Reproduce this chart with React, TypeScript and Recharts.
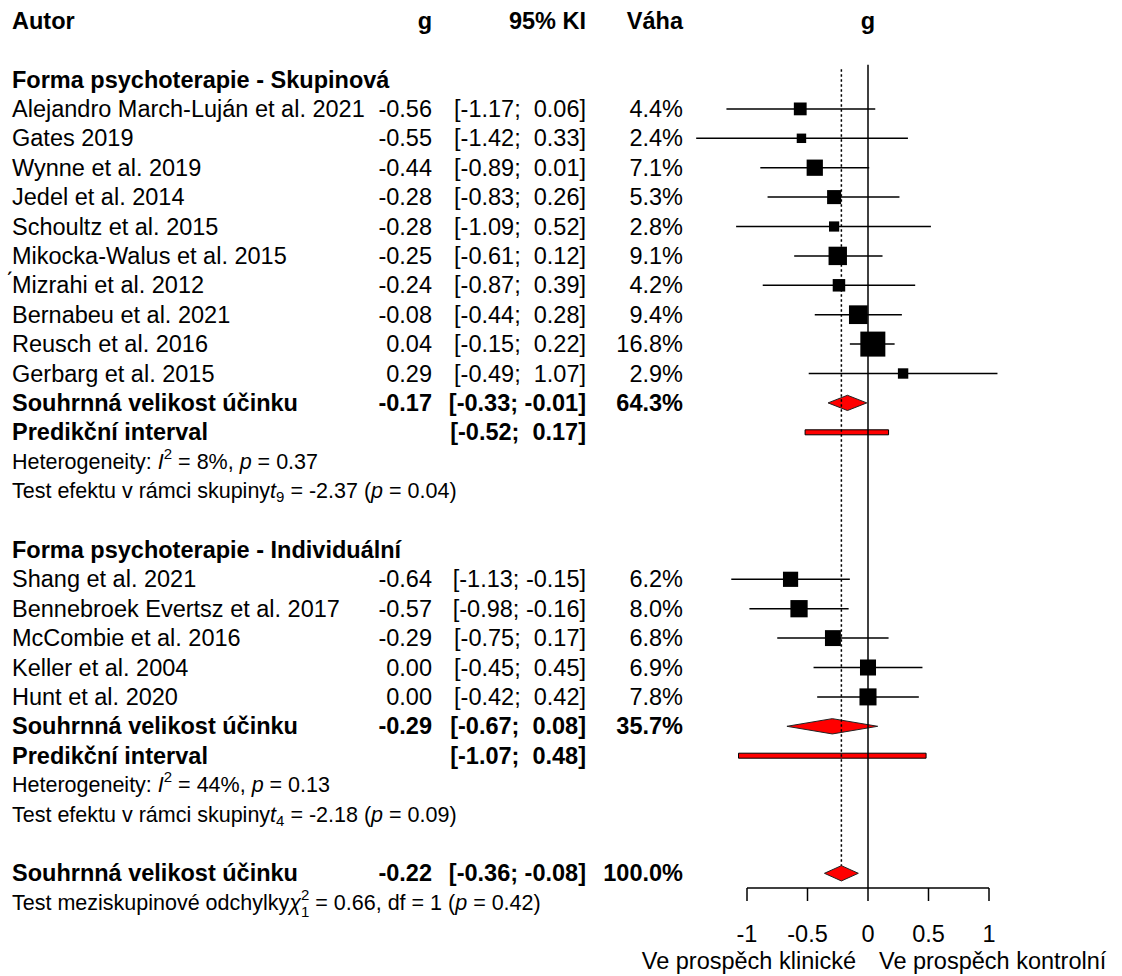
import React from "react";
import {
  ComposedChart,
  Scatter,
  XAxis,
  YAxis,
  ReferenceLine,
  ReferenceArea,
  Label,
} from "recharts";

const FONT = '"Liberation Sans", Arial, Helvetica, sans-serif';
const FS = 23.5;
const FS_SMALL = 21.5;

// subgroups and studies
const groupNames = [
  "Forma psychoterapie - Skupinová",
  "Forma psychoterapie - Individuální",
];
const authors = [
  "Alejandro March-Luján et al. 2021",
  "Gates 2019",
  "Wynne et al. 2019",
  "Jedel et al. 2014",
  "Schoultz et al. 2015",
  "Mikocka-Walus et al. 2015",
  "\u0301Mizrahi et al. 2012",
  "Bernabeu et al. 2021",
  "Reusch et al. 2016",
  "Gerbarg et al. 2015",
  "Shang et al. 2021",
  "Bennebroek Evertsz et al. 2017",
  "McCombie et al. 2016",
  "Keller et al. 2004",
  "Hunt et al. 2020",
];
const studyGroup = [0, 0, 0, 0, 0, 0, 0, 0, 0, 0, 1, 1, 1, 1, 1];
const hedgesG = [-0.56, -0.55, -0.44, -0.28, -0.28, -0.25, -0.24, -0.08, 0.04, 0.29, -0.64, -0.57, -0.29, 0.0, 0.0];
const ciLower = [-1.17, -1.42, -0.89, -0.83, -1.09, -0.61, -0.87, -0.44, -0.15, -0.49, -1.13, -0.98, -0.75, -0.45, -0.42];
const ciUpper = [0.06, 0.33, 0.01, 0.26, 0.52, 0.12, 0.39, 0.28, 0.22, 1.07, -0.15, -0.16, 0.17, 0.45, 0.42];
const weights = [4.4, 2.4, 7.1, 5.3, 2.8, 9.1, 4.2, 9.4, 16.8, 2.9, 6.2, 8.0, 6.8, 6.9, 7.8];

// subgroup summaries
const pooledG = [-0.17, -0.29];
const pooledLower = [-0.33, -0.67];
const pooledUpper = [-0.01, 0.08];
const pooledWeight = [64.3, 35.7];
const predLower = [-0.52, -1.07];
const predUpper = [0.17, 0.48];
const hetI2 = [8, 44];
const hetP = [0.37, 0.13];
const testDf = [9, 4];
const testT = [-2.37, -2.18];
const testP = [0.04, 0.09];

// overall
const overallG = -0.22;
const overallLower = -0.36;
const overallUpper = -0.08;
const overallWeight = 100.0;
const betweenChi2 = 0.66;
const betweenDf = 1;
const betweenP = 0.42;

const axisTicks = [-1, -0.5, 0, 0.5, 1];

type Kind = "header" | "group" | "study" | "pooled" | "pred" | "het" | "test" | "overall";
type Row = { row: number; kind: Kind; idx: number };

const rows: Row[] = [];
let r = 0;
rows.push({ row: r, kind: "header", idx: 0 });
r += 2;
groupNames.forEach((_, gi) => {
  rows.push({ row: r++, kind: "group", idx: gi });
  authors.forEach((_, si) => {
    if (studyGroup[si] === gi) rows.push({ row: r++, kind: "study", idx: si });
  });
  rows.push({ row: r++, kind: "pooled", idx: gi });
  rows.push({ row: r++, kind: "pred", idx: gi });
  rows.push({ row: r++, kind: "het", idx: gi });
  rows.push({ row: r++, kind: "test", idx: gi });
  r++;
});
rows.push({ row: r++, kind: "overall", idx: 0 });
const overallRow = r - 1;
const rowByIndex = new Map(rows.map((row) => [row.row, row]));
const studyRow = (si: number) => rows.find((x) => x.kind === "study" && x.idx === si)!.row;
const groupRow = (gi: number, kind: Kind) => rows.find((x) => x.kind === kind && x.idx === gi)!.row;

const squares = authors.map((_, i) => ({ x: hedgesG[i], y: studyRow(i), w: weights[i] }));

const f2 = (v: number) => v.toFixed(2);
const ci = (lo: number, hi: number) => `[${f2(lo)};${hi < 0 ? "\u00a0" : "\u00a0\u00a0"}${f2(hi)}]`;

const COL_NAME = 12;
const COL_G = 432;
const COL_CI = 586;
const COL_W = 683;
const PLOT_ZERO = 868;

const Square = (props: any) => {
  const { cx, cy, payload } = props;
  const s = 6.1 * Math.sqrt(payload.w);
  return <rect x={cx - s / 2} y={cy - s / 2} width={s} height={s} fill="#000" />;
};

const Diamond = (props: any) => {
  const { x, y, width, height } = props;
  const pts = [
    [x, y + height / 2],
    [x + width / 2, y],
    [x + width, y + height / 2],
    [x + width / 2, y + height],
  ]
    .map((p) => p.join(","))
    .join(" ");
  return <polygon points={pts} fill="#ff0000" stroke="#222" strokeWidth={1} />;
};

const Txt = ({ x, y, anchor = "start", bold = false, size = FS, children }: any) => (
  <text
    x={x}
    y={y}
    textAnchor={anchor}
    dominantBaseline="central"
    fontFamily={FONT}
    fontSize={size}
    fontWeight={bold ? "bold" : "normal"}
    fill="#000"
  >
    {children}
  </text>
);

const RowText = (props: any) => {
  const { y, payload } = props;
  const row = rowByIndex.get(payload.value);
  if (!row) return null;
  const i = row.idx;
  switch (row.kind) {
    case "header":
      return (
        <g>
          <Txt x={COL_NAME} y={y} bold>Autor</Txt>
          <Txt x={COL_G} y={y} anchor="end" bold>g</Txt>
          <Txt x={COL_CI} y={y} anchor="end" bold>95% KI</Txt>
          <Txt x={COL_W} y={y} anchor="end" bold>Váha</Txt>
          <Txt x={PLOT_ZERO} y={y} anchor="middle" bold>g</Txt>
        </g>
      );
    case "group":
      return <Txt x={COL_NAME} y={y} bold>{groupNames[i]}</Txt>;
    case "study":
      return (
        <g>
          <Txt x={COL_NAME} y={y}>{authors[i]}</Txt>
          <Txt x={COL_G} y={y} anchor="end">{f2(hedgesG[i])}</Txt>
          <Txt x={COL_CI} y={y} anchor="end">{ci(ciLower[i], ciUpper[i])}</Txt>
          <Txt x={COL_W} y={y} anchor="end">{weights[i].toFixed(1)}%</Txt>
        </g>
      );
    case "pooled":
      return (
        <g>
          <Txt x={COL_NAME} y={y} bold>Souhrnná velikost účinku</Txt>
          <Txt x={COL_G} y={y} anchor="end" bold>{f2(pooledG[i])}</Txt>
          <Txt x={COL_CI} y={y} anchor="end" bold>{ci(pooledLower[i], pooledUpper[i])}</Txt>
          <Txt x={COL_W} y={y} anchor="end" bold>{pooledWeight[i].toFixed(1)}%</Txt>
        </g>
      );
    case "pred":
      return (
        <g>
          <Txt x={COL_NAME} y={y} bold>Predikční interval</Txt>
          <Txt x={COL_CI} y={y} anchor="end" bold>{ci(predLower[i], predUpper[i])}</Txt>
        </g>
      );
    case "het":
      return (
        <Txt x={COL_NAME} y={y} size={FS_SMALL}>
          {"Heterogeneity: "}
          <tspan fontStyle="italic">I</tspan>
          <tspan dy={-9} fontSize={15}>2</tspan>
          <tspan dy={9}>{` = ${hetI2[i]}%, `}</tspan>
          <tspan fontStyle="italic">p</tspan>
          {` = ${f2(hetP[i])}`}
        </Txt>
      );
    case "test":
      return (
        <Txt x={COL_NAME} y={y} size={FS_SMALL}>
          {"Test efektu v rámci skupiny"}
          <tspan fontStyle="italic">t</tspan>
          <tspan dy={5} fontSize={15}>{testDf[i]}</tspan>
          <tspan dy={-5}>{` = ${f2(testT[i])} (`}</tspan>
          <tspan fontStyle="italic">p</tspan>
          {` = ${f2(testP[i])})`}
        </Txt>
      );
    case "overall":
      return (
        <g>
          <Txt x={COL_NAME} y={y} bold>Souhrnná velikost účinku</Txt>
          <Txt x={COL_G} y={y} anchor="end" bold>{f2(overallG)}</Txt>
          <Txt x={COL_CI} y={y} anchor="end" bold>{ci(overallLower, overallUpper)}</Txt>
          <Txt x={COL_W} y={y} anchor="end" bold>{overallWeight.toFixed(1)}%</Txt>
        </g>
      );
  }
  return null;
};

// between-group test line and the direction captions under the axis
const AxisFooter = (props: any) => {
  const vb = props.viewBox;
  const testY = vb.y + 14.7;
  const capY = vb.y + 81;
  const mid = vb.x + vb.width / 2;
  return (
    <g>
      <Txt x={COL_NAME} y={testY} size={FS_SMALL}>
        {"Test meziskupinové odchylky"}
        <tspan fontStyle="italic">χ</tspan>
        <tspan dy={-9} fontSize={15}>2</tspan>
        <tspan dx={-8.3} dy={17} fontSize={15}>{betweenDf}</tspan>
        <tspan dy={-8}>{` = ${f2(betweenChi2)}, df = ${betweenDf} (`}</tspan>
        <tspan fontStyle="italic">p</tspan>
        {` = ${f2(betweenP)})`}
      </Txt>
      <text x={mid - 12} y={capY} textAnchor="end" fontFamily={FONT} fontSize={FS} fill="#000">
        Ve prospěch klinické
      </text>
      <text x={mid + 11} y={capY} textAnchor="start" fontFamily={FONT} fontSize={FS} fill="#000">
        Ve prospěch kontrolní
      </text>
    </g>
  );
};

const DIAMOND_HALF = 0.26;
const PRED_HALF = 0.085;
const AXIS_ROW = 29.5;

export default function App() {
  return (
    <div style={{ position: "absolute", left: 0, top: 0, width: 1122, height: 976, background: "#fff" }}>
      <ComposedChart width={1122} height={976} margin={{ top: 6, right: 60.4, bottom: 0, left: 0 }}>
        <XAxis
          type="number"
          dataKey="x"
          domain={[-1.6, 1.6]}
          allowDataOverflow
          ticks={axisTicks}
          interval={0}
          axisLine={false}
          tickLine={{ stroke: "#000", strokeWidth: 1.5 }}
          tickSize={13}
          tickMargin={24}
          height={88}
          tick={{ fill: "#000", fontSize: FS, fontFamily: FONT }}
        >
          <Label content={AxisFooter} />
        </XAxis>
        <YAxis
          type="number"
          dataKey="y"
          domain={[-0.5, AXIS_ROW]}
          allowDataOverflow
          reversed
          ticks={rows.map((x) => x.row)}
          interval={0}
          width={674.4}
          axisLine={false}
          tickLine={false}
          tick={<RowText />}
        />

        {/* confidence intervals of the single studies */}
        {authors.map((_, i) => (
          <ReferenceLine
            key={`ci-${i}`}
            segment={[
              { x: ciLower[i], y: studyRow(i) },
              { x: ciUpper[i], y: studyRow(i) },
            ]}
            stroke="#000"
            strokeWidth={1.5}
          />
        ))}

        {/* line of no effect and overall estimate */}
        <ReferenceLine
          segment={[
            { x: 0, y: 1.5 },
            { x: 0, y: AXIS_ROW },
          ]}
          stroke="#000"
          strokeWidth={1.5}
        />
        <ReferenceLine
          segment={[
            { x: overallG, y: 1.65 },
            { x: overallG, y: overallRow - DIAMOND_HALF },
          ]}
          stroke="#000"
          strokeWidth={1.5}
          strokeDasharray="2.5 2.5"
        />
        <ReferenceLine
          segment={[
            { x: axisTicks[0], y: AXIS_ROW },
            { x: axisTicks[axisTicks.length - 1], y: AXIS_ROW },
          ]}
          stroke="#000"
          strokeWidth={1.5}
        />

        {/* subgroup diamonds and prediction intervals */}
        {groupNames.map((_, gi) => (
          <ReferenceArea
            key={`pool-${gi}`}
            x1={pooledLower[gi]}
            x2={pooledUpper[gi]}
            y1={groupRow(gi, "pooled") - DIAMOND_HALF}
            y2={groupRow(gi, "pooled") + DIAMOND_HALF}
            shape={<Diamond />}
          />
        ))}
        {groupNames.map((_, gi) => (
          <ReferenceArea
            key={`pred-${gi}`}
            x1={predLower[gi]}
            x2={predUpper[gi]}
            y1={groupRow(gi, "pred") - PRED_HALF}
            y2={groupRow(gi, "pred") + PRED_HALF}
            fill="#ff0000"
            fillOpacity={1}
            stroke="#000"
            strokeWidth={1}
          />
        ))}
        <ReferenceArea
          x1={overallLower}
          x2={overallUpper}
          y1={overallRow - DIAMOND_HALF}
          y2={overallRow + DIAMOND_HALF}
          shape={<Diamond />}
        />

        <Scatter data={squares} shape={<Square />} isAnimationActive={false} />
      </ComposedChart>
    </div>
  );
}
